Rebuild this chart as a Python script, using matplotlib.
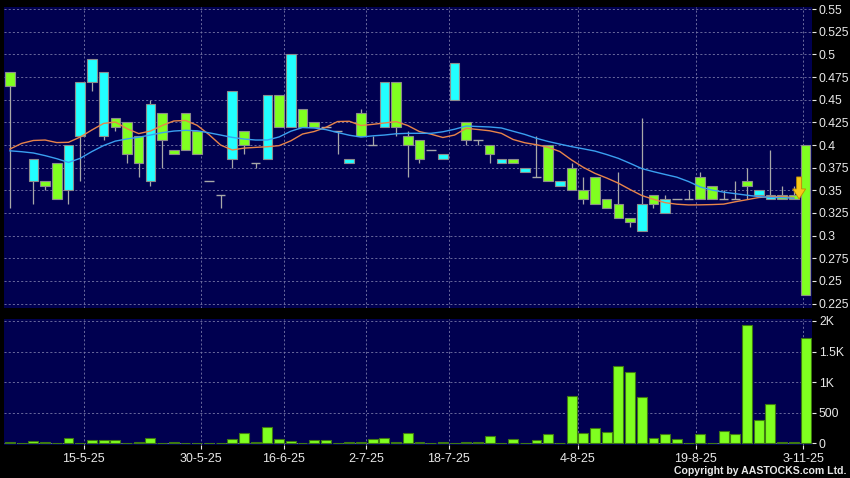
import numpy as np
import matplotlib
matplotlib.use("Agg")
import matplotlib.pyplot as plt
from matplotlib.patches import Polygon
from matplotlib.transforms import ScaledTranslation

plt.rcParams['font.family'] = ['Liberation Sans', 'DejaVu Sans']

nan = np.nan

# 每日 K 线数据 (open, close, high, low)
opens = [0.48, nan, 0.36, 0.36, 0.38, 0.35, 0.41, 0.47, 0.41, 0.43,
         0.425, 0.41, 0.36, 0.435, 0.395, 0.435, 0.415, 0.36, 0.345, 0.385,
         0.415, 0.38, 0.385, 0.455, 0.42, 0.44, 0.425, 0.42, 0.415, 0.38,
         0.435, 0.40, 0.42, 0.47, 0.41, 0.405, 0.395, 0.385, 0.45, 0.425,
         0.405, 0.40, 0.38, 0.385, 0.37, 0.365, 0.40, 0.355, 0.375, 0.35,
         0.365, 0.34, 0.335, 0.32, 0.305, 0.345, 0.325, 0.34, 0.34, 0.365,
         0.355, 0.34, 0.34, 0.36, 0.345, 0.34, 0.345, 0.345, 0.40]
closes = [0.465, nan, 0.385, 0.355, 0.34, 0.40, 0.47, 0.495, 0.48, 0.42,
          0.39, 0.38, 0.445, 0.405, 0.39, 0.395, 0.39, 0.36, 0.345, 0.46,
          0.40, 0.38, 0.455, 0.42, 0.50, 0.42, 0.42, 0.42, 0.415, 0.385,
          0.41, 0.40, 0.47, 0.42, 0.40, 0.385, 0.395, 0.39, 0.49, 0.405,
          0.405, 0.39, 0.385, 0.38, 0.375, 0.365, 0.36, 0.36, 0.35, 0.34,
          0.335, 0.33, 0.32, 0.315, 0.335, 0.335, 0.34, 0.34, 0.34, 0.34,
          0.34, 0.34, 0.34, 0.355, 0.35, 0.345, 0.34, 0.34, 0.235]
highs = [0.48, nan, 0.385, 0.36, 0.38, 0.40, 0.47, 0.495, 0.48, 0.43,
         0.425, 0.41, 0.45, 0.435, 0.395, 0.435, 0.415, 0.36, 0.345, 0.46,
         0.415, 0.38, 0.455, 0.455, 0.50, 0.44, 0.425, 0.42, 0.415, 0.385,
         0.44, 0.41, 0.47, 0.47, 0.415, 0.405, 0.395, 0.39, 0.49, 0.425,
         0.405, 0.40, 0.385, 0.385, 0.375, 0.41, 0.40, 0.36, 0.38, 0.365,
         0.365, 0.34, 0.37, 0.32, 0.43, 0.345, 0.345, 0.34, 0.35, 0.37,
         0.355, 0.35, 0.36, 0.375, 0.35, 0.395, 0.355, 0.355, 0.40]
lows = [0.33, nan, 0.335, 0.35, 0.34, 0.335, 0.36, 0.46, 0.405, 0.415,
        0.38, 0.365, 0.355, 0.375, 0.39, 0.395, 0.39, 0.36, 0.33, 0.375,
        0.39, 0.375, 0.385, 0.42, 0.42, 0.42, 0.42, 0.42, 0.39, 0.38,
        0.41, 0.40, 0.42, 0.41, 0.365, 0.38, 0.395, 0.385, 0.45, 0.40,
        0.40, 0.38, 0.38, 0.38, 0.37, 0.365, 0.36, 0.355, 0.35, 0.335,
        0.335, 0.33, 0.32, 0.31, 0.305, 0.33, 0.325, 0.34, 0.34, 0.34,
        0.34, 0.34, 0.34, 0.34, 0.345, 0.34, 0.34, 0.34, 0.235]

# 成交量
volumes = [22, 0, 44, 22, 5, 93, 5, 60, 49, 60,
           3, 22, 87, 2, 22, 2, 2, 3, 3, 71,
           174, 22, 262, 71, 38, 2, 60, 60, 3, 22,
           22, 76, 93, 22, 163, 22, 3, 16, 5, 22,
           22, 120, 8, 76, 3, 60, 147, 3, 774, 164,
           245, 180, 1270, 1160, 763, 87, 147, 71, 10, 153,
           2, 202, 147, 1930, 382, 638, 22, 27, 1728]

# 移动平均线 (短期 / 长期)
ma_short = [0.3956, 0.4018, 0.4050, 0.4055, 0.4027, 0.4030, 0.4088, 0.4166, 0.4238, 0.4254,
            0.4180, 0.4126, 0.4154, 0.4215, 0.4265, 0.4271, 0.4217, 0.4116, 0.4000, 0.3945,
            0.3966, 0.3974, 0.3981, 0.3993, 0.4046, 0.4121, 0.4149, 0.4195, 0.4259, 0.4262,
            0.4215, 0.4228, 0.4243, 0.4258, 0.4215, 0.4148, 0.4119, 0.4083, 0.4110, 0.4184,
            0.4171, 0.4157, 0.4129, 0.4061, 0.4025, 0.4003, 0.3975, 0.3928, 0.3835, 0.3754,
            0.3687, 0.3636, 0.3579, 0.3509, 0.3443, 0.3401, 0.3364, 0.3347, 0.3339, 0.3340,
            0.3343, 0.3348, 0.3374, 0.3397, 0.3421, 0.3430, 0.3430, 0.3421]
ma_long = [0.3936, 0.3926, 0.3912, 0.3883, 0.3849, 0.3808, 0.3853, 0.3928, 0.3994, 0.4043,
           0.4067, 0.4086, 0.4110, 0.4136, 0.4154, 0.4162, 0.4157, 0.4135, 0.4110, 0.4084,
           0.4066, 0.4055, 0.4055, 0.4089, 0.4152, 0.4193, 0.4188, 0.4170, 0.4138, 0.4108,
           0.4088, 0.4101, 0.4110, 0.4124, 0.4129, 0.4129, 0.4129, 0.4146, 0.4174, 0.4210,
           0.4204, 0.4199, 0.4188, 0.4152, 0.4117, 0.4074, 0.4039, 0.4010, 0.3982, 0.3958,
           0.3933, 0.3895, 0.3853, 0.3798, 0.3740, 0.3706, 0.3675, 0.3645, 0.3597, 0.3537,
           0.3503, 0.3480, 0.3463, 0.3446, 0.3431, 0.3422, 0.3420, 0.3413]

# 日期标签 (位置为 K 线序号)
date_labels = ['15-5-25', '30-5-25', '16-6-25', '2-7-25', '18-7-25', '4-8-25', '19-8-25', '3-11-25']
date_pos = [6.3, 16.3, 23.4, 30.45, 37.5, 48.55, 58.6, 67.8]

price_ticks = [0.225, 0.25, 0.275, 0.3, 0.325, 0.35, 0.375, 0.4, 0.425, 0.45, 0.475, 0.5, 0.525, 0.55]
price_labels = ['0.225', '0.25', '0.275', '0.3', '0.325', '0.35', '0.375', '0.4', '0.425', '0.45',
                '0.475', '0.5', '0.525', '0.55']
vol_ticks = [0, 500, 1000, 1500, 2000]
vol_labels = ['0', '500', '1K', '1.5K', '2K']

BG = '#000050'
UP = '#22ffff'
DOWN = '#80ff20'
GRID = '#7878a8'
TXT = '#e8e8e8'


def style_axes(ax):
    ax.set_facecolor(BG)
    for s in ax.spines.values():
        s.set_visible(False)
    ax.yaxis.tick_right()
    ax.tick_params(axis='y', colors=TXT, labelsize=8.8, length=3, width=0.8, pad=2)
    ax.grid(True, color=GRID, linestyle=(0, (2.5, 2.5)), linewidth=0.6)
    ax.set_axisbelow(True)


fig = plt.figure(figsize=(8.5, 4.78), dpi=100, facecolor='black')
ax = fig.add_axes([4 / 850, 170 / 478, 808 / 850, 301.5 / 478])
axv = fig.add_axes([4 / 850, 33 / 478, 808 / 850, 126 / 478])

idx = np.arange(len(opens))
o = np.array(opens)
c = np.array(closes)
h = np.array(highs)
l = np.array(lows)

# 影线
ax.vlines(idx, l, h, color='#a8a8a8', linewidth=0.9, zorder=2)

# 实体
body_w = 0.82
for i in idx:
    if np.isnan(o[i]):
        continue
    if abs(c[i] - o[i]) < 1e-9:
        ax.hlines(o[i], i - body_w / 2, i + body_w / 2, color='#a8a8a8', linewidth=1.0, zorder=3)
        continue
    col = UP if c[i] > o[i] else DOWN
    ax.bar(i, abs(c[i] - o[i]), bottom=min(o[i], c[i]), width=body_w,
           color=col, edgecolor='#8c8c8c', linewidth=0.8, zorder=3)

ax.plot(np.arange(len(ma_short)), ma_short, color='#e8844a', linewidth=1.0, zorder=4)
ax.plot(np.arange(len(ma_long)), ma_long, color='#3aa0f0', linewidth=1.0, zorder=4)

# 最新价箭头 (形状以像素为单位, 锚点在箭头尖端)
arrow_px = np.array([[0, 0], [-6.5, 10], [-2.5, 10], [-2.5, 22], [2.5, 22], [2.5, 10], [6.5, 10]]) / 100.0
arrow_tr = fig.dpi_scale_trans + ScaledTranslation(67.45, 0.3405, ax.transData)
ax.add_patch(Polygon(arrow_px, closed=True, transform=arrow_tr, facecolor='#f8c818',
                     edgecolor='#c08a00', linewidth=0.6, zorder=6))

ax.set_xlim(-0.513, 68.55)
ax.set_ylim(0.2202, 0.5528)
ax.set_yticks(price_ticks)
ax.set_yticklabels(price_labels)
ax.set_xticks(date_pos)
ax.tick_params(axis='x', length=0, labelbottom=False)
style_axes(ax)

# 成交量图
axv.bar(idx, volumes, width=0.85, color=DOWN, edgecolor='#3f7a12', linewidth=0.8, zorder=3)
axv.set_xlim(-0.513, 68.55)
axv.set_ylim(-28, 2032)
axv.set_yticks(vol_ticks)
axv.set_yticklabels(vol_labels)
axv.set_xticks(date_pos)
axv.set_xticklabels(date_labels)
style_axes(axv)
axv.tick_params(axis='x', colors=TXT, labelsize=9, length=3, width=0.8, pad=3)
for t in axv.get_xticklines():
    t.set_color('#a0a0a0')

fig.text(846 / 850, 1 - 471 / 478, 'Copyright by AASTOCKS.com Ltd.', color=TXT,
         fontsize=7.6, fontweight='bold', ha='right', va='center')

plt.savefig('out.png', dpi=100, facecolor='black')
